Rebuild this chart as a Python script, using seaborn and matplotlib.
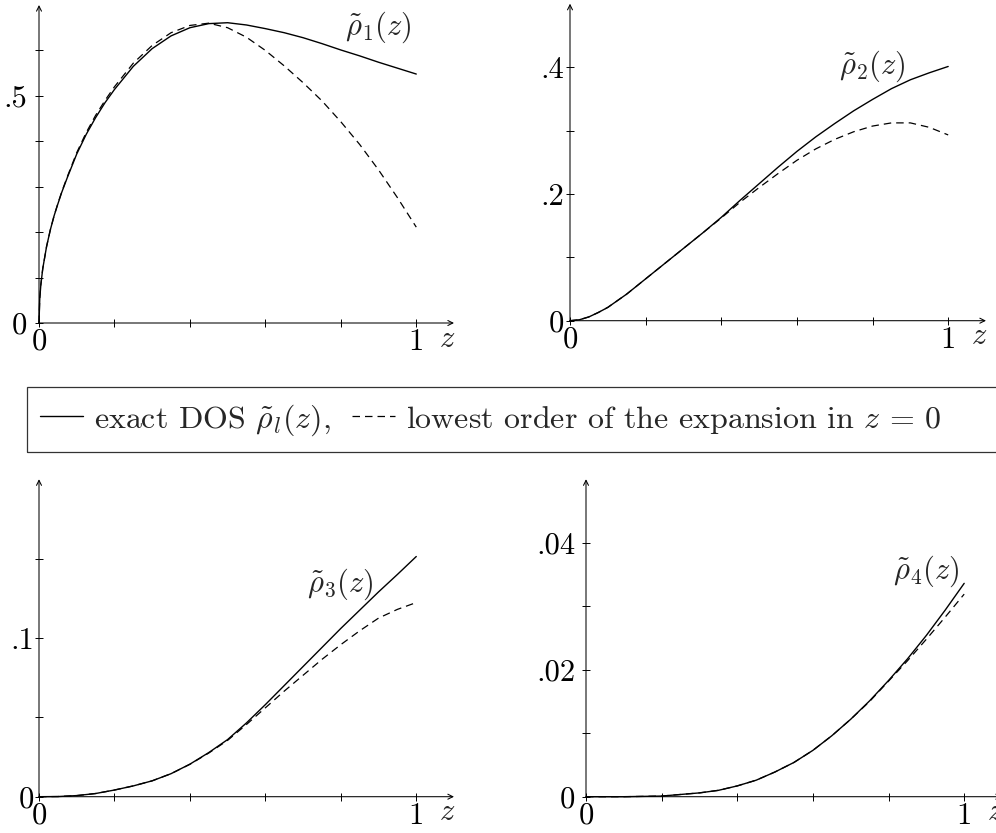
import numpy as np
import pandas as pd
import matplotlib
matplotlib.use("Agg")
import matplotlib.pyplot as plt
from matplotlib.patches import Rectangle
import seaborn as sns

# ---------------- data ----------------
z1_exact = [0, 0.002, 0.005, 0.01, 0.02, 0.03, 0.04, 0.05, 0.06, 0.075, 0.1, 0.125, 0.15, 0.175, 0.2,
            0.25, 0.3, 0.35, 0.4, 0.45, 0.5, 0.55, 0.6, 0.65, 0.7, 0.75, 0.8, 0.85, 0.9, 0.95, 1.0]
rho1_exact = [0, 0.054, 0.085, 0.12, 0.168, 0.205, 0.236, 0.262, 0.287, 0.320, 0.372, 0.415, 0.452,
              0.485, 0.514, 0.565, 0.604, 0.632, 0.650, 0.659, 0.661, 0.656, 0.648, 0.639, 0.628,
              0.615, 0.601, 0.588, 0.574, 0.561, 0.548]
z1_low = [0, 0.002, 0.005, 0.01, 0.02, 0.03, 0.04, 0.05, 0.06, 0.075, 0.1, 0.125, 0.15, 0.175, 0.2,
          0.25, 0.3, 0.35, 0.4, 0.45, 0.5, 0.55, 0.6, 0.65, 0.7, 0.75, 0.8, 0.85, 0.9, 0.95, 1.0]
rho1_low = [0, 0.054, 0.085, 0.12, 0.168, 0.205, 0.236, 0.263, 0.288, 0.322, 0.375, 0.419, 0.457,
            0.490, 0.520, 0.572, 0.611, 0.639, 0.655, 0.660, 0.650, 0.629, 0.600, 0.566, 0.529,
            0.489, 0.443, 0.393, 0.337, 0.276, 0.211]

z2 = [0, 0.025, 0.05, 0.075, 0.1, 0.15, 0.2, 0.25, 0.3, 0.35, 0.4, 0.45, 0.5, 0.55, 0.6, 0.65,
      0.7, 0.75, 0.8, 0.85, 0.9, 0.95, 1.0]
rho2_exact = [0, 0.0015, 0.006, 0.013, 0.021, 0.042, 0.066, 0.090, 0.114, 0.138, 0.163, 0.190,
              0.216, 0.242, 0.267, 0.290, 0.311, 0.331, 0.349, 0.366, 0.380, 0.391, 0.401]
rho2_low = [0, 0.0015, 0.006, 0.013, 0.021, 0.042, 0.066, 0.090, 0.114, 0.138, 0.162, 0.187,
            0.210, 0.232, 0.253, 0.271, 0.286, 0.298, 0.307, 0.312, 0.312, 0.305, 0.293]

z3 = [0, 0.05, 0.1, 0.15, 0.2, 0.25, 0.3, 0.35, 0.4, 0.45, 0.5, 0.55, 0.6, 0.65, 0.7, 0.75,
      0.8, 0.85, 0.9, 0.95, 1.0]
rho3_exact = [0, 0.0001, 0.0007, 0.0020, 0.0042, 0.0068, 0.0100, 0.0145, 0.0205, 0.0278, 0.0360,
              0.0465, 0.0580, 0.0700, 0.0820, 0.0940, 0.1060, 0.1175, 0.1290, 0.1400, 0.1513]
rho3_low = [0, 0.0001, 0.0007, 0.0020, 0.0042, 0.0068, 0.0100, 0.0145, 0.0204, 0.0275, 0.0355,
            0.0455, 0.0560, 0.0665, 0.0765, 0.0865, 0.0958, 0.1045, 0.1125, 0.1180, 0.1223]

z4 = [0, 0.1, 0.2, 0.3, 0.35, 0.4, 0.45, 0.5, 0.55, 0.6, 0.65, 0.7, 0.75, 0.8, 0.85, 0.9, 0.95, 1.0]
rho4_exact = [0, 0.0000, 0.0001, 0.0006, 0.0010, 0.0017, 0.0026, 0.0039, 0.0054, 0.0073, 0.0096,
              0.0122, 0.0151, 0.0183, 0.0217, 0.0254, 0.0294, 0.0336]
rho4_low = [0, 0.0000, 0.0001, 0.0006, 0.0010, 0.0017, 0.0026, 0.0039, 0.0054, 0.0073, 0.0096,
            0.0122, 0.0150, 0.0182, 0.0214, 0.0248, 0.0283, 0.0319]

x_ticks = [0, 0.2, 0.4, 0.6, 0.8, 1.0]
x_ticklabels = ["0", "", "", "", "", "1"]
y_ticks = [[0, 0.1, 0.2, 0.3, 0.4, 0.5, 0.6],
           [0, 0.1, 0.2, 0.3, 0.4],
           [0, 0.05, 0.1, 0.15],
           [0, 0.01, 0.02, 0.03, 0.04]]
y_ticklabels = [["0", "", "", "", "", ".5", ""],
                ["0", "", ".2", "", ".4"],
                ["0", "", ".1", ""],
                ["0", "", ".02", "", ".04"]]
y_max = [0.7, 0.5, 0.2, 0.05]
panel_labels = [r"$\tilde{\rho}_1(z)$", r"$\tilde{\rho}_2(z)$", r"$\tilde{\rho}_3(z)$", r"$\tilde{\rho}_4(z)$"]
label_pos = [(0.90, 0.652), (0.80, 0.402), (0.80, 0.134), (0.90, 0.0355)]
legend_labels = [r"exact DOS $\tilde{\rho}_l(z)$,", r"lowest order of the expansion in $z\,=\,0$"]

# ---------------- style ----------------
sns.set_theme(style="white")
plt.rcParams["font.family"] = ["cmr10", "DejaVu Serif"]
plt.rcParams["mathtext.fontset"] = "cm"
plt.rcParams["axes.unicode_minus"] = False
plt.rcParams["axes.formatter.use_mathtext"] = True

W, H = 996, 833
fig = plt.figure(figsize=(W / 100, H / 100), dpi=100)
fig.patch.set_facecolor("white")

# axes geometry in pixels: (left, axis y, width, height)
geom = [(39, 323, 415, 318), (570, 320.7, 416, 317),
        (39, 796.7, 415, 317.5), (586, 796.7, 416, 317.5)]
ypads = [5.5, 1.5, 0.8, 4.5]

data = [(z1_exact, rho1_exact, z1_low, rho1_low),
        (z2, rho2_exact, z2, rho2_low),
        (z3, rho3_exact, z3, rho3_low),
        (z4, rho4_exact, z4, rho4_low)]

axes = []
for i, (l, yb, w, h) in enumerate(geom):
    ax = fig.add_axes([l / W, (H - yb) / H, w / W, h / H])
    ax.set_facecolor("none")
    ze, re_, zl, rl = data[i]
    df_e = pd.DataFrame({"z": ze, "rho": re_})
    df_l = pd.DataFrame({"z": zl, "rho": rl})
    sns.lineplot(data=df_e, x="z", y="rho", ax=ax, color="black", lw=1.0, clip_on=False)
    sns.lineplot(data=df_l, x="z", y="rho", ax=ax, color="black", lw=0.9,
                 linestyle=(0, (6, 4)), clip_on=False)
    ax.set_xlim(0, 1.1)
    ax.set_ylim(0, y_max[i])
    for s in ax.spines.values():
        s.set_visible(False)
    ax.set_xticks(x_ticks)
    ax.set_xticklabels(x_ticklabels)
    ax.set_yticks(y_ticks[i])
    ax.set_yticklabels(y_ticklabels[i])
    ax.tick_params(axis="both", which="major", bottom=True, left=True, top=False, right=False,
                   direction="inout", length=6, width=0.7, color="black",
                   labelsize=22, labelcolor="black")
    ax.tick_params(axis="x", pad=1.0)
    ax.tick_params(axis="y", pad=ypads[i])
    ax.set_xlabel("$z$", fontsize=22)
    ax.xaxis.set_label_coords(0.983, -0.05)
    ax.xaxis.label.set_va("center")
    ax.set_ylabel("")
    # axis lines with arrow heads
    ax.annotate("", xy=(1, 0), xytext=(0, 0), xycoords="axes fraction",
                arrowprops=dict(arrowstyle="->", lw=0.75, color="black",
                                shrinkA=0, shrinkB=0, mutation_scale=9))
    ax.annotate("", xy=(0, 1), xytext=(0, 0), xycoords="axes fraction",
                arrowprops=dict(arrowstyle="->", lw=0.75, color="black",
                                shrinkA=0, shrinkB=0, mutation_scale=9))
    lx, ly = label_pos[i]
    ax.text(lx, ly, panel_labels[i], fontsize=22, ha="center", va="center")
    axes.append(ax)

# legend
lines = axes[0].get_lines()
fig.legend([lines[0], lines[1]], legend_labels, loc="center left",
           bbox_to_anchor=(40 / W, (H - 420) / H), ncol=2, frameon=False,
           fontsize=23, handlelength=1.35, handletextpad=0.35, columnspacing=0.65,
           borderpad=0, borderaxespad=0)
fig.patches.append(Rectangle((27 / W, (H - 452) / H), (1010 - 27) / W, 65 / H,
                             transform=fig.transFigure, fill=False, lw=0.9,
                             edgecolor="#333333", clip_on=False))

fig.savefig("out.png", dpi=100, facecolor="white")
